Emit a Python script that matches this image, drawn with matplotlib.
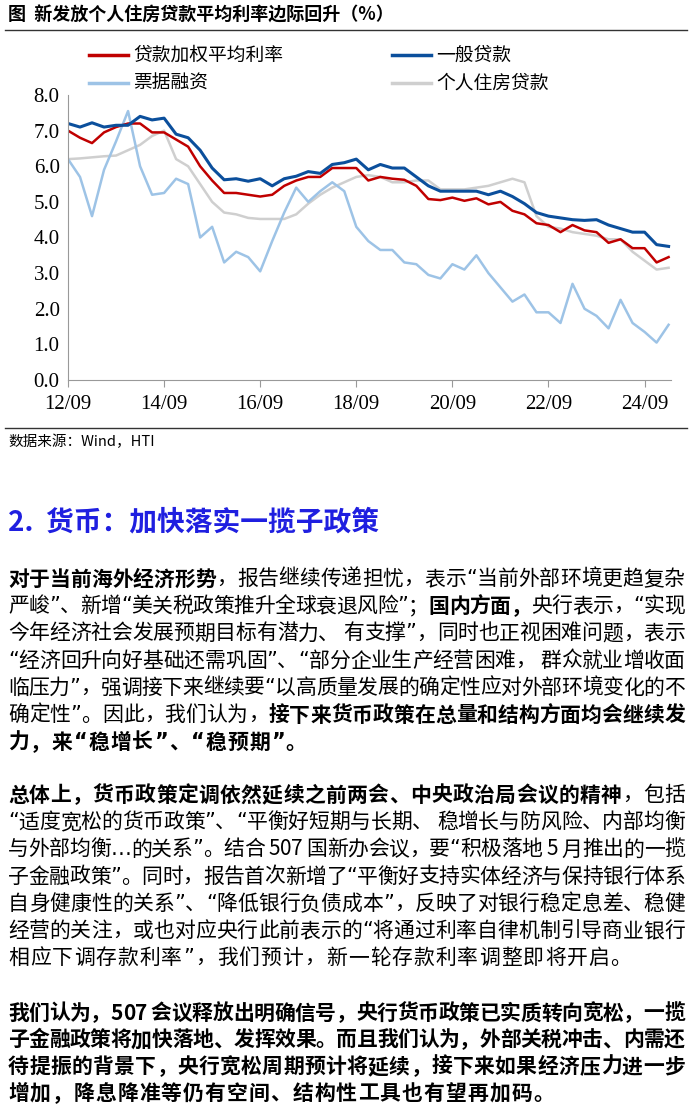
import numpy as np
import matplotlib
matplotlib.use("Agg")
import matplotlib.pyplot as plt
from matplotlib.font_manager import FontProperties
from matplotlib.lines import Line2D

plt.rcParams['font.family'] = ['Noto Sans CJK SC', 'DejaVu Sans']

# quarterly data, 2012/09 .. 2025/03
weighted = [7.0, 6.8, 6.65, 6.95, 7.1, 7.2, 7.2, 6.95, 6.95, 6.75, 6.55, 6.0, 5.6, 5.25, 5.25, 5.2,
            5.15, 5.2, 5.45, 5.6, 5.7, 5.7, 5.95, 5.95, 5.95, 5.6, 5.7, 5.65, 5.62, 5.45, 5.08, 5.05,
            5.12, 5.03, 5.1, 4.93, 5.0, 4.75, 4.65, 4.4, 4.35, 4.15, 4.35, 4.2, 4.15, 3.85, 3.95, 3.7,
            3.7, 3.3, 3.45]
general = [7.2, 7.1, 7.22, 7.1, 7.15, 7.15, 7.4, 7.3, 7.35, 6.9, 6.8, 6.45, 5.95, 5.62, 5.65, 5.58,
           5.65, 5.45, 5.65, 5.72, 5.85, 5.8, 6.05, 6.1, 6.2, 5.9, 6.05, 5.95, 5.95, 5.7, 5.45, 5.3,
           5.3, 5.3, 5.3, 5.2, 5.3, 5.15, 4.95, 4.7, 4.6, 4.55, 4.5, 4.48, 4.5, 4.35, 4.25, 4.15,
           4.15, 3.8, 3.75]
bill = [6.2, 5.7, 4.6, 5.9, 6.7, 7.55, 6.0, 5.2, 5.25, 5.65, 5.5, 4.0, 4.3, 3.3, 3.6, 3.45,
        3.05, 3.9, 4.7, 5.4, 5.0, 5.3, 5.55, 5.3, 4.3, 3.9, 3.65, 3.65, 3.3, 3.25, 2.95, 2.85,
        3.25, 3.1, 3.5, 3.0, 2.6, 2.2, 2.4, 1.9, 1.9, 1.6, 2.7, 2.0, 1.8, 1.45, 2.25, 1.6,
        1.35, 1.05, 1.55]
housing = [6.2, 6.22, 6.25, 6.28, 6.3, 6.45, 6.6, 6.85, 7.0, 6.2, 6.0, 5.5, 5.0, 4.7, 4.65, 4.55,
           4.52, 4.52, 4.52, 4.65, 4.95, 5.2, 5.4, 5.55, 5.7, 5.75, 5.7, 5.55, 5.55, 5.6, 5.6, 5.35,
           5.35, 5.35, 5.4, 5.45, 5.55, 5.65, 5.55, 4.6, 4.3, 4.25, 4.15, 4.1, 4.05, 3.95, 3.95, 3.6,
           3.35, 3.1, 3.15]
tick_labels = ['12/09', '14/09', '16/09', '18/09', '20/09', '22/09', '24/09']
series_names = ['贷款加权平均利率', '一般贷款', '票据融资', '个人住房贷款']
colors = ['#C00000', '#0B4F9C', '#9DC3E6', '#CFCFCF']

W, H = 692, 1109
fig = plt.figure(figsize=(W / 100, H / 100), dpi=100)

def fy(py):
    return 1 - py / H

x = 2012.75 + 0.25 * np.arange(len(weighted))
ax = fig.add_axes([68 / W, fy(380), 603 / W, 285 / H])
for vals, c in zip([housing, bill, weighted, general], [colors[3], colors[2], colors[0], colors[1]]):
    ax.plot(x, vals, color=c, lw=2.2 if c == colors[1] else 1.8)
ax.set_xlim(2012.75, 2025.3)
ax.set_ylim(0, 8)
ax.set_xticks(2012.75 + 2 * np.arange(len(tick_labels)))
ax.set_xticklabels(tick_labels)
ax.set_yticks(np.arange(0, 9))
ax.set_yticklabels([f'{v:.1f}' for v in range(9)])
for s in ['top', 'right']:
    ax.spines[s].set_visible(False)
for s in ['left', 'bottom']:
    ax.spines[s].set_color('#999999')
serif = FontProperties(family='Liberation Serif', size=15)
for lab in ax.get_xticklabels() + ax.get_yticklabels():
    lab.set_fontproperties(serif)
ax.tick_params(axis='x', length=5, color='#999999', pad=6)
ax.tick_params(axis='y', length=0, pad=6)

# legend
leg = [(89, 55, 0), (392, 55, 1), (89, 83, 2), (392, 83, 3)]
for lx, ly, i in leg:
    fig.add_artist(Line2D([lx / W, (lx + 39) / W], [fy(ly), fy(ly)], color=colors[i],
                          lw=2.5, transform=fig.transFigure))
    fig.text((lx + 44) / W, fy(ly), series_names[i], fontsize=13.5, va='center')

fig.text(8 / W, fy(15), '图  新发放个人住房贷款平均利率边际回升（%）', fontsize=13, weight='bold', va='center')
for ly in [30, 428]:
    fig.add_artist(Line2D([5 / W, 687 / W], [fy(ly), fy(ly)], color='#333333', lw=1,
                          transform=fig.transFigure))
fig.text(8 / W, fy(442), '数据来源：Wind，HTI', fontsize=10.5, va='center')

fig.text(8 / W, fy(522), '2.  货币：加快落实一揽子政策', fontsize=20, weight='bold',
         color='#1F1FE0', va='center')

N, B = 'normal', 'bold'
paras = [
    (579, 27.2, [
        [("对于当前海外经济形势", B), ("，报告继续传递担忧，表示“当前外部环境更趋复杂", N)],
        [("严峻”、新增“美关税政策推升全球衰退风险”；", N), ("国内方面，", B), ("央行表示，“实现", N)],
        [("今年经济社会发展预期目标有潜力、 有支撑”，同时也正视困难问题，表示", N)],
        [("“经济回升向好基础还需巩固”、“部分企业生产经营困难， 群众就业增收面", N)],
        [("临压力”，强调接下来继续要“以高质量发展的确定性应对外部环境变化的不", N)],
        [("确定性”。因此，我们认为，", N), ("接下来货币政策在总量和结构方面均会继续发", B)],
        [("力，来“稳增长”、“稳预期”。", B)],
    ]),
    (795, 27.2, [
        [("总体上，货币政策定调依然延续之前两会、中央政治局会议的精神", B), ("，包括", N)],
        [("“适度宽松的货币政策”、“平衡好短期与长期、 稳增长与防风险、内部均衡", N)],
        [("与外部均衡…的关系”。结合 507 国新办会议，要“积极落地 5 月推出的一揽", N)],
        [("子金融政策”。同时，报告首次新增了“平衡好支持实体经济与保持银行体系", N)],
        [("自身健康性的关系”、“降低银行负债成本”，反映了对银行稳定息差、稳健", N)],
        [("经营的关注，或也对应央行此前表示的“将通过利率自律机制引导商业银行", N)],
        [("相应下调存款利率”，我们预计，新一轮存款利率调整即将开启。", N)],
    ]),
    (1013, 26.8, [
        [("我们认为，507 会议释放出明确信号，央行货币政策已实质转向宽松，一揽", B)],
        [("子金融政策将加快落地、发挥效果。而且我们认为，外部关税冲击、内需还", B)],
        [("待提振的背景下，央行宽松周期预计将延续，接下来如果经济压力进一步", B)],
        [("增加，降息降准等仍有空间、结构性工具也有望再加码。", B)],
    ]),
]

renderer = fig.canvas.get_renderer()
fs = 15
left, right = 8, 685
narrow = set('“”…')
for y0, step, lines in paras:
    for li, segs in enumerate(lines):
        chars = [(ch, w) for s, w in segs for ch in s]
        props = []
        widths = []
        for ch, w in chars:
            fam = ['DejaVu Sans'] if ch in narrow else ['Noto Sans CJK SC', 'DejaVu Sans']
            fp = FontProperties(family=fam, size=fs, weight=w)
            cw, _, _ = renderer.get_text_width_height_descent(ch, fp, ismath=False)
            props.append(fp)
            widths.append(cw)
        last = li == len(lines) - 1
        extra = 1.0 if last else (right - left - sum(widths)) / (len(chars) - 1)
        px = left
        for (ch, w), cw, fp in zip(chars, widths, props):
            if ch != ' ':
                fig.text(px / W, fy(y0 + li * step), ch, fontproperties=fp, va='center', ha='left')
            px += cw + extra

fig.savefig('out.png', dpi=100)
